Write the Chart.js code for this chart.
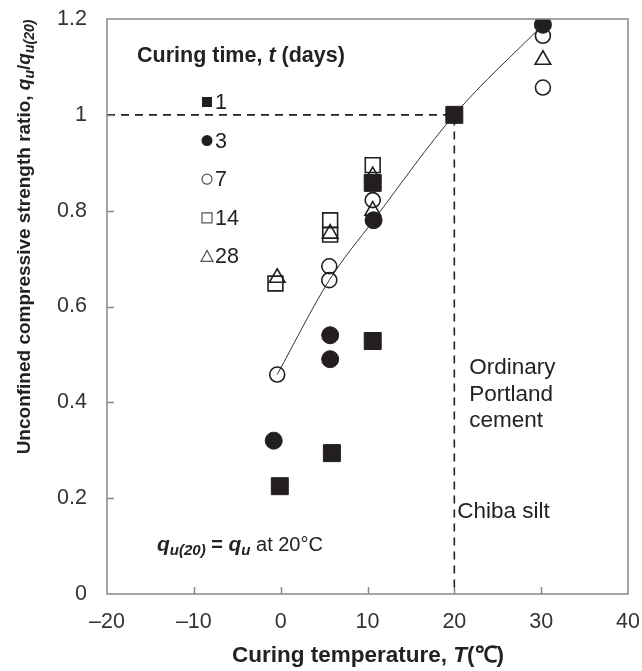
<!DOCTYPE html>
<html>
<head>
<meta charset="utf-8">
<script src="https://cdn.jsdelivr.net/npm/chart.js@4.4.0/dist/chart.umd.min.js"></script>
<style>
  html, body { margin: 0; padding: 0; background: #fff; }
  #wrap { width: 642px; height: 671px; }
</style>
</head>
<body>
<div id="wrap"><canvas id="chart" width="642" height="671"></canvas></div>
<script>
// Curing temperature (°C) and strength ratio qu/qu(20) per curing time
const day1Temp = [-0.1, 5.9, 10.6, 10.6, 20];
const day1Ratio = [0.225, 0.294, 0.528, 0.858, 1.0];
const day3Temp = [-0.8, 5.7, 5.7, 10.7, 30.2];
const day3Ratio = [0.32, 0.54, 0.49, 0.78, 1.188];
const day7Temp = [-0.4, 5.6, 5.6, 10.6, 30.2, 30.2];
const day7Ratio = [0.458, 0.655, 0.684, 0.822, 1.165, 1.057];
const day14Temp = [-0.6, 5.7, 5.7, 10.6];
const day14Ratio = [0.648, 0.78, 0.75, 0.895];
const day28Temp = [-0.4, 5.7, 10.6, 10.6, 30.2];
const day28Ratio = [0.66, 0.752, 0.80, 0.872, 1.115];
// fitted curve through the reference points
const curveTemp = [-0.4, 5.6, 10.7, 20, 30.2];
const curveRatio = [0.458, 0.655, 0.78, 1.0, 1.188];
// reference lines at 20 °C
const refTemp = [-20, 20, 20];
const refRatio = [1, 1, 0];
const xTicks = [-20, -10, 0, 10, 20, 30, 40];
const yTicks = [0, 0.2, 0.4, 0.6, 0.8, 1, 1.2];

const INK = '#231f20';
const FONT = "'Liberation Sans', Arial, sans-serif";

function pts(xs, ys) {
    return xs.map((x, i) => ({x: x, y: ys[i]}));
}

// draw a run of text pieces with their own fonts
function richText(ctx, parts, x, y, align) {
    let total = 0;
    parts.forEach(p => { ctx.font = p.font; total += ctx.measureText(p.t).width; });
    let cx = align === 'center' ? x - total / 2 : x;
    ctx.textAlign = 'left';
    ctx.textBaseline = 'middle';
    parts.forEach(p => {
        ctx.font = p.font;
        ctx.fillText(p.t, cx, y + (p.dy || 0));
        cx += ctx.measureText(p.t).width;
    });
}

function legendMark(ctx, type, x, y) {
    ctx.save();
    ctx.strokeStyle = '#555';
    ctx.fillStyle = INK;
    ctx.lineWidth = 1.2;
    ctx.beginPath();
    if (type === 'sq') { ctx.fillRect(x - 5, y - 5, 10, 10); }
    else if (type === 'dot') { ctx.arc(x, y, 5.5, 0, Math.PI * 2); ctx.fill(); }
    else if (type === 'ring') { ctx.arc(x, y, 5, 0, Math.PI * 2); ctx.stroke(); }
    else if (type === 'box') { ctx.rect(x - 5, y - 5, 10, 10); ctx.stroke(); }
    else { ctx.moveTo(x, y - 6); ctx.lineTo(x + 6, y + 5); ctx.lineTo(x - 6, y + 5); ctx.closePath(); ctx.stroke(); }
    ctx.restore();
}

const decor = {
    id: 'decor',
    afterDraw(chart) {
        const ctx = chart.ctx;
        const a = chart.chartArea;
        const xs = chart.scales.x, ys = chart.scales.y;
        ctx.save();
        // frame
        ctx.strokeStyle = '#888';
        ctx.lineWidth = 1.5;
        ctx.strokeRect(a.left, a.top, a.right - a.left, a.bottom - a.top);
        // inward ticks
        ctx.beginPath();
        xTicks.slice(1, -1).forEach(v => {
            const px = Math.round(xs.getPixelForValue(v)) + 0.5;
            ctx.moveTo(px, a.bottom); ctx.lineTo(px, a.bottom - 7);
        });
        yTicks.slice(1, -1).forEach(v => {
            const py = Math.round(ys.getPixelForValue(v)) + 0.5;
            ctx.moveTo(a.left, py); ctx.lineTo(a.left + 7, py);
        });
        ctx.stroke();

        ctx.fillStyle = '#222';
        // x axis title
        richText(ctx, [
            {t: 'Curing temperature, ', font: 'bold 22.5px ' + FONT},
            {t: 'T', font: 'italic bold 22.5px ' + FONT},
            {t: '(\u2103)', font: 'bold 22.5px ' + FONT}
        ], 368, 656, 'center');

        // y axis title
        ctx.save();
        ctx.translate(25, 237);
        ctx.rotate(-Math.PI / 2);
        richText(ctx, [
            {t: 'Unconfined compressive strength ratio, ', font: 'bold 19px ' + FONT},
            {t: 'q', font: 'italic bold 19px ' + FONT},
            {t: 'u', font: 'italic bold 14px ' + FONT, dy: 5},
            {t: '/', font: 'bold 19px ' + FONT},
            {t: 'q', font: 'italic bold 19px ' + FONT},
            {t: 'u(20)', font: 'italic bold 14px ' + FONT, dy: 5}
        ], 0, 0, 'center');
        ctx.restore();

        // legend
        richText(ctx, [
            {t: 'Curing time, ', font: 'bold 21.5px ' + FONT},
            {t: 't', font: 'italic bold 21.5px ' + FONT},
            {t: ' (days)', font: 'bold 21.5px ' + FONT}
        ], 137, 56, 'left');
        const rows = [['sq', '1'], ['dot', '3'], ['ring', '7'], ['box', '14'], ['tri', '28']];
        rows.forEach((r, i) => {
            const y = 102 + i * 38.6;
            legendMark(ctx, r[0], 207, y);
            ctx.fillStyle = '#222';
            richText(ctx, [{t: r[1], font: '21.5px ' + FONT}], 215, y + 1, 'left');
        });

        // notes
        const x20 = xs.getPixelForValue(20);
        ['Ordinary', 'Portland', 'cement'].forEach((s, i) => {
            richText(ctx, [{t: s, font: '22.5px ' + FONT}], x20 + 15, 368 + i * 26.5, 'left');
        });
        richText(ctx, [{t: 'Chiba silt', font: '22.5px ' + FONT}], x20 + 3, 512, 'left');
        richText(ctx, [
            {t: 'q', font: 'italic bold 21px ' + FONT},
            {t: 'u(20)', font: 'italic bold 15px ' + FONT, dy: 6},
            {t: ' = ', font: 'bold 20px ' + FONT},
            {t: 'q', font: 'italic bold 21px ' + FONT},
            {t: 'u', font: 'italic bold 15px ' + FONT, dy: 6},
            {t: ' at 20\u00b0C', font: '20px ' + FONT}
        ], 157, 545, 'left');
        ctx.restore();
    }
};

new Chart(document.getElementById('chart'), {
    type: 'scatter',
    data: {
        datasets: [
            {label: '1', data: pts(day1Temp, day1Ratio), pointStyle: 'rect', pointRadius: 12,
             backgroundColor: INK, borderColor: INK, borderWidth: 1, order: 1},
            {label: '14', data: pts(day14Temp, day14Ratio), pointStyle: 'rect', pointRadius: 10.5,
             backgroundColor: 'rgba(0,0,0,0)', borderColor: INK, borderWidth: 1.6, order: 2},
            {label: '3', data: pts(day3Temp, day3Ratio), pointStyle: 'circle', pointRadius: 8.5,
             backgroundColor: INK, borderColor: INK, borderWidth: 1, order: 3},
            {label: '7', data: pts(day7Temp, day7Ratio), pointStyle: 'circle', pointRadius: 7.5,
             backgroundColor: 'rgba(0,0,0,0)', borderColor: INK, borderWidth: 1.6, order: 4},
            {label: '28', data: pts(day28Temp, day28Ratio), pointStyle: 'triangle', pointRadius: 9,
             backgroundColor: 'rgba(0,0,0,0)', borderColor: INK, borderWidth: 1.6, order: 5},
            {label: 'curve', data: pts(curveTemp, curveRatio), showLine: true, pointRadius: 0,
             borderColor: '#333', borderWidth: 1, tension: 0.4, cubicInterpolationMode: 'monotone', order: 6},
            {label: 'ref', data: pts(refTemp, refRatio), showLine: true, pointRadius: 0,
             borderColor: INK, borderWidth: 1.6, borderDash: [8, 6], tension: 0, order: 7}
        ]
    },
    options: {
        responsive: false,
        animation: false,
        events: [],
        layout: {padding: {top: 19, right: 14, left: 0, bottom: 0}},
        plugins: {legend: {display: false}, tooltip: {enabled: false}},
        scales: {
            x: {
                type: 'linear', min: -20, max: 40,
                afterBuildTicks: s => { s.ticks = xTicks.map(v => ({value: v})); },
                afterFit: s => { s.height = 77; s.paddingLeft = 0; s.paddingRight = 0; },
                grid: {display: false, drawTicks: false},
                border: {display: false},
                ticks: {padding: 15, color: '#333', font: {family: FONT, size: 21.5},
                        callback: v => String(v).replace('-', '\u2013')}
            },
            y: {
                type: 'linear', min: 0, max: 1.2,
                afterBuildTicks: s => { s.ticks = yTicks.map(v => ({value: v})); },
                afterFit: s => { s.width = 107; s.paddingTop = 0; s.paddingBottom = 0; },
                grid: {display: false, drawTicks: false},
                border: {display: false},
                ticks: {padding: 20, color: '#333', font: {family: FONT, size: 21.5},
                        callback: v => String(Math.round(v * 10) / 10)}
            }
        }
    },
    plugins: [decor]
});
</script>
</body>
</html>
